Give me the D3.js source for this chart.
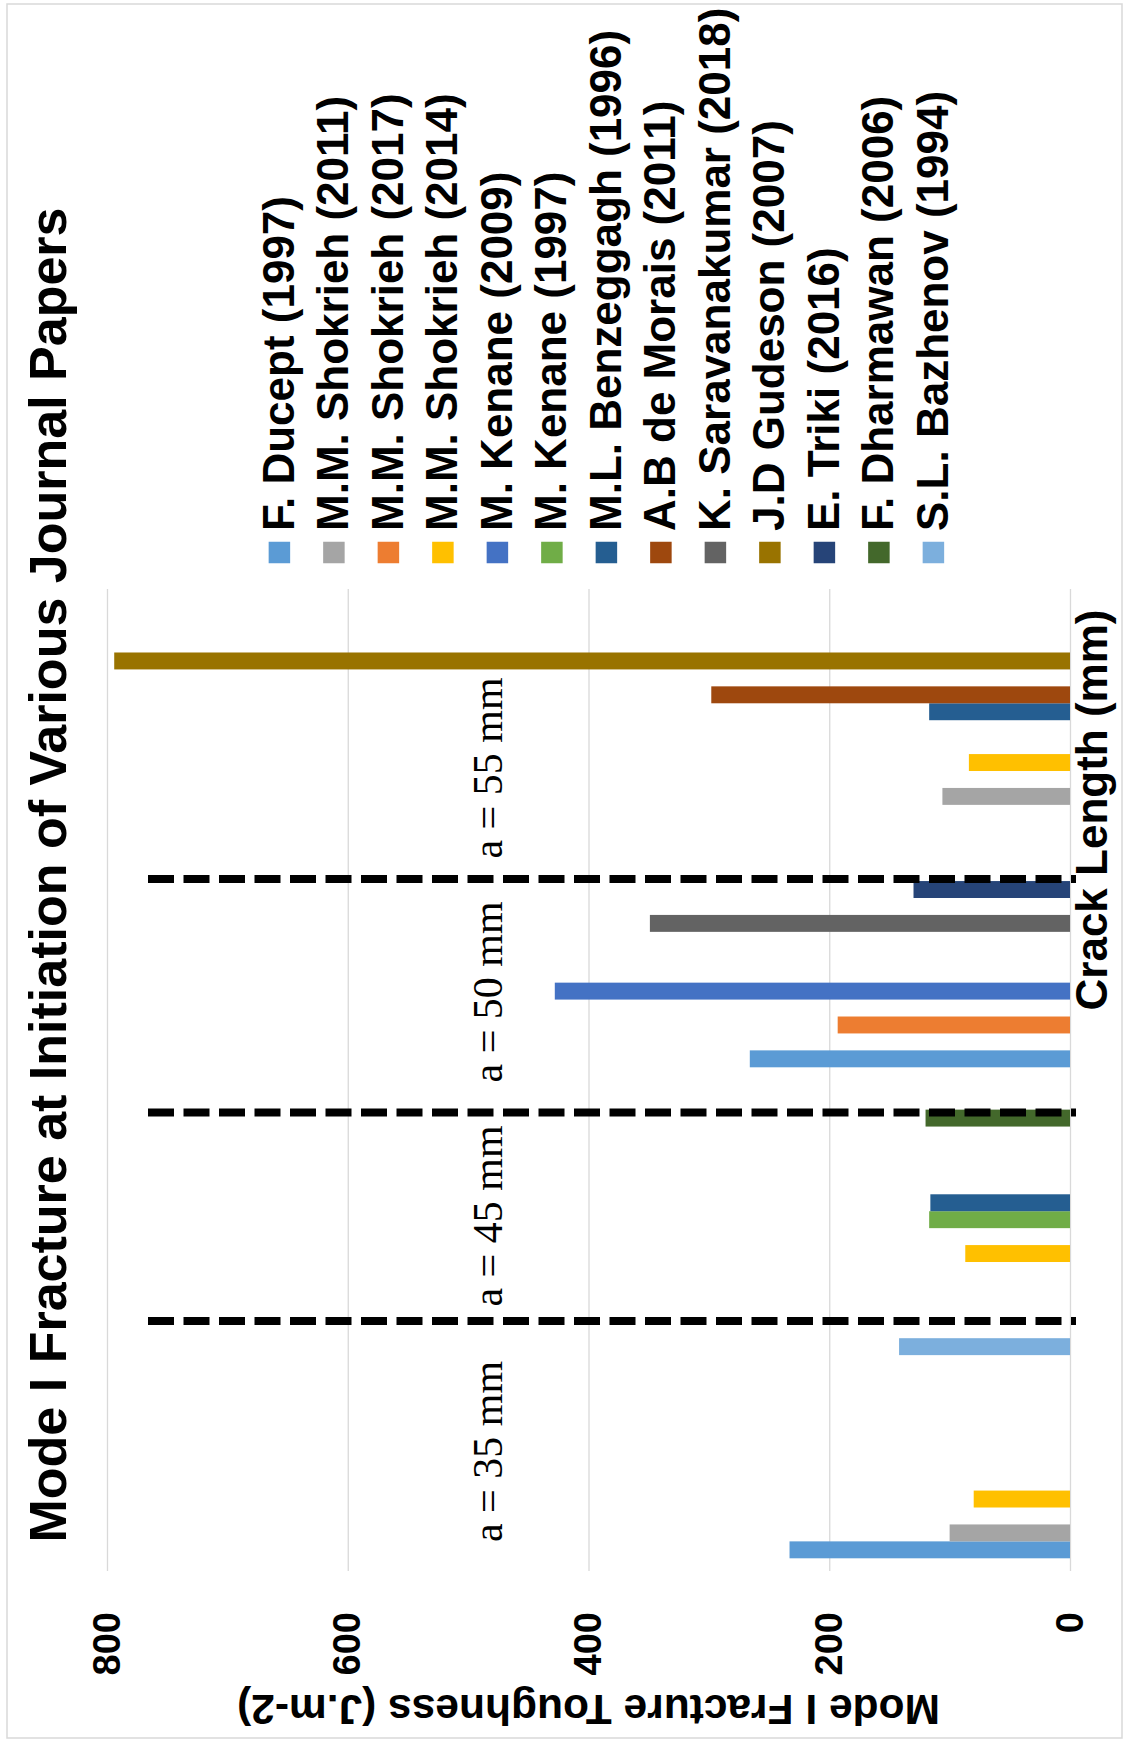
<!DOCTYPE html>
<html>
<head>
<meta charset="utf-8">
<script src="https://cdn.jsdelivr.net/npm/d3@7"></script>
<style>
  html, body { margin: 0; padding: 0; background: #ffffff; }
  svg { display: block; font-family: "Liberation Sans", Arial, sans-serif; }
</style>
</head>
<body>
<div id="chart"></div>
<script>
// Crack-length groups (category axis)
const categories = ["35", "45", "50", "55"];
const crackLabels = ["a = 35 mm", "a = 45 mm", "a = 50 mm", "a = 55 mm"];

// Papers (series), in legend order
const seriesNames = [
  "F. Ducept (1997)",
  "M.M. Shokrieh (2011)",
  "M.M. Shokrieh (2017)",
  "M.M. Shokrieh (2014)",
  "M. Kenane (2009)",
  "M. Kenane (1997)",
  "M.L. Benzeggagh (1996)",
  "A.B de Morais (2011)",
  "K. Saravanakumar (2018)",
  "J.D Gudeson (2007)",
  "E. Triki (2016)",
  "F. Dharmawan (2006)",
  "S.L. Bazhenov (1994)"
];
const seriesColors = [
  "#5B9BD5", "#A5A5A5", "#ED7D31", "#FFC000", "#4472C4", "#70AD47", "#255E91",
  "#9E480E", "#636363", "#997300", "#264478", "#43682B", "#7CAFDD"
];

// Mode I fracture toughness (J.m-2) per crack length: a = 35, 45, 50, 55 mm
const ducept1997        = [233, null, 266, null];
const shokrieh2011      = [100, null, null, 106];
const shokrieh2017      = [null, null, 193, null];
const shokrieh2014      = [80, 87, null, 84];
const kenane2009        = [null, null, 428, null];
const kenane1997        = [null, 117, null, null];
const benzeggagh1996    = [null, 116, null, 117];
const deMorais2011      = [null, null, null, 298];
const saravanakumar2018 = [null, null, 349, null];
const gudeson2007       = [null, null, null, 794];
const triki2016         = [null, null, 130, null];
const dharmawan2006     = [null, 120, null, null];
const bazhenov1994      = [142, null, null, null];

const seriesValues = [
  ducept1997, shokrieh2011, shokrieh2017, shokrieh2014, kenane2009, kenane1997,
  benzeggagh1996, deMorais2011, saravanakumar2018, gudeson2007, triki2016,
  dharmawan2006, bazhenov1994
];

const valueTicks = [0, 200, 400, 600, 800];

// Group separators and crack-length captions, in category units (0 = start of first group)
const separatorAt = [1.018, 1.868, 2.819];
const captionAt = [0.487, 1.446, 2.359, 3.271];

// ---------------------------------------------------------------
const W = 1129, H = 1746;
const SANS = "'Liberation Sans', Arial, sans-serif";
const SERIF = "'Liberation Serif', 'Times New Roman', serif";

const svg = d3.select("#chart").append("svg")
  .attr("width", W).attr("height", H);

svg.append("rect").attr("width", W).attr("height", H).attr("fill", "#ffffff");

// chart border
svg.append("rect")
  .attr("x", 7).attr("y", 4).attr("width", 1115).attr("height", 1734)
  .attr("fill", "none").attr("stroke", "#d9d9d9").attr("stroke-width", 1.5);

// The chart is laid out as an ordinary column chart (1746 wide, 1129 tall)
// and turned a quarter turn counter-clockwise onto the page.
const g = svg.append("g").attr("transform", `translate(0,${H}) rotate(-90)`);

const plotLeft = 175, plotRight = 1157;

const x0 = d3.scaleBand().domain(categories).range([plotLeft, plotRight])
  .paddingInner(0).paddingOuter(0);
const x1 = d3.scaleBand().domain(d3.range(seriesNames.length))
  .range([0, x0.bandwidth()]).paddingInner(0).paddingOuter(0.75);
const y = d3.scaleLinear().domain([0, 800]).range([1070, 107]);
const catPos = d3.scaleLinear().domain([0, categories.length]).range([plotLeft, plotRight]);

// value axis: gridlines + tick labels
const yAxis = d3.axisLeft(y).tickValues(valueTicks)
  .tickSize(-(plotRight - plotLeft)).tickPadding(41).tickFormat(d3.format("d"));
const axisG = g.append("g").attr("transform", `translate(${plotLeft},0)`).call(yAxis);
axisG.select(".domain").remove();
axisG.selectAll(".tick line").attr("stroke", "#d9d9d9").attr("stroke-width", 1.3);
axisG.selectAll(".tick text")
  .attr("fill", "#000")
  .style("font-family", SANS).style("font-size", "38px").style("font-weight", "bold");

// bars
const barData = [];
seriesValues.forEach((vals, si) => {
  vals.forEach((v, ci) => {
    if (v != null) barData.push({ si, cat: categories[ci], v });
  });
});
g.append("g").selectAll("rect").data(barData).join("rect")
  .attr("x", d => x0(d.cat) + x1(d.si))
  .attr("width", x1.bandwidth())
  .attr("y", d => y(d.v))
  .attr("height", d => y(0) - y(d.v))
  .attr("fill", d => seriesColors[d.si]);

// dashed separators between crack-length groups
g.append("g").selectAll("line").data(separatorAt).join("line")
  .attr("x1", d => catPos(d)).attr("x2", d => catPos(d))
  .attr("y1", 148).attr("y2", 1076)
  .attr("stroke", "#000").attr("stroke-width", 8)
  .attr("stroke-dasharray", "26 9.5");

// crack-length captions
g.append("g").selectAll("text").data(crackLabels).join("text")
  .attr("x", (d, i) => catPos(captionAt[i]))
  .attr("y", 502)
  .attr("text-anchor", "middle")
  .attr("fill", "#000")
  .style("font-family", SERIF).style("font-size", "42px")
  .text(d => d);

// title
g.append("text")
  .attr("x", 871).attr("y", 66)
  .attr("text-anchor", "middle").attr("fill", "#000")
  .style("font-family", SANS).style("font-size", "52px").style("font-weight", "bold")
  .text("Mode I Fracture at Initiation of Various Journal Papers");

// value axis title
g.append("text")
  .attr("transform", `translate(51,${(y(0) + y(800)) / 2}) rotate(-90)`)
  .attr("text-anchor", "middle").attr("fill", "#000")
  .style("font-family", SANS).style("font-size", "42.5px").style("font-weight", "bold")
  .text("Mode I Fracture Toughness (J.m-2)");

// category axis title
g.append("text")
  .attr("x", 936).attr("y", 1107)
  .attr("text-anchor", "middle").attr("fill", "#000")
  .style("font-family", SANS).style("font-size", "44px").style("font-weight", "bold")
  .text("Crack Length (mm)");

// legend
const legend = g.append("g").selectAll("g").data(seriesNames).join("g")
  .attr("transform", (d, i) => `translate(1193.5,${279.4 + i * 54.5})`);
legend.append("rect")
  .attr("x", -10.75).attr("y", -10.75).attr("width", 21.5).attr("height", 21.5)
  .attr("fill", (d, i) => seriesColors[i]);
legend.append("text")
  .attr("x", 21.5).attr("y", 14.5).attr("fill", "#000")
  .style("font-family", SANS).style("font-size", "44px").style("font-weight", "bold")
  .text(d => d);
</script>
</body>
</html>
